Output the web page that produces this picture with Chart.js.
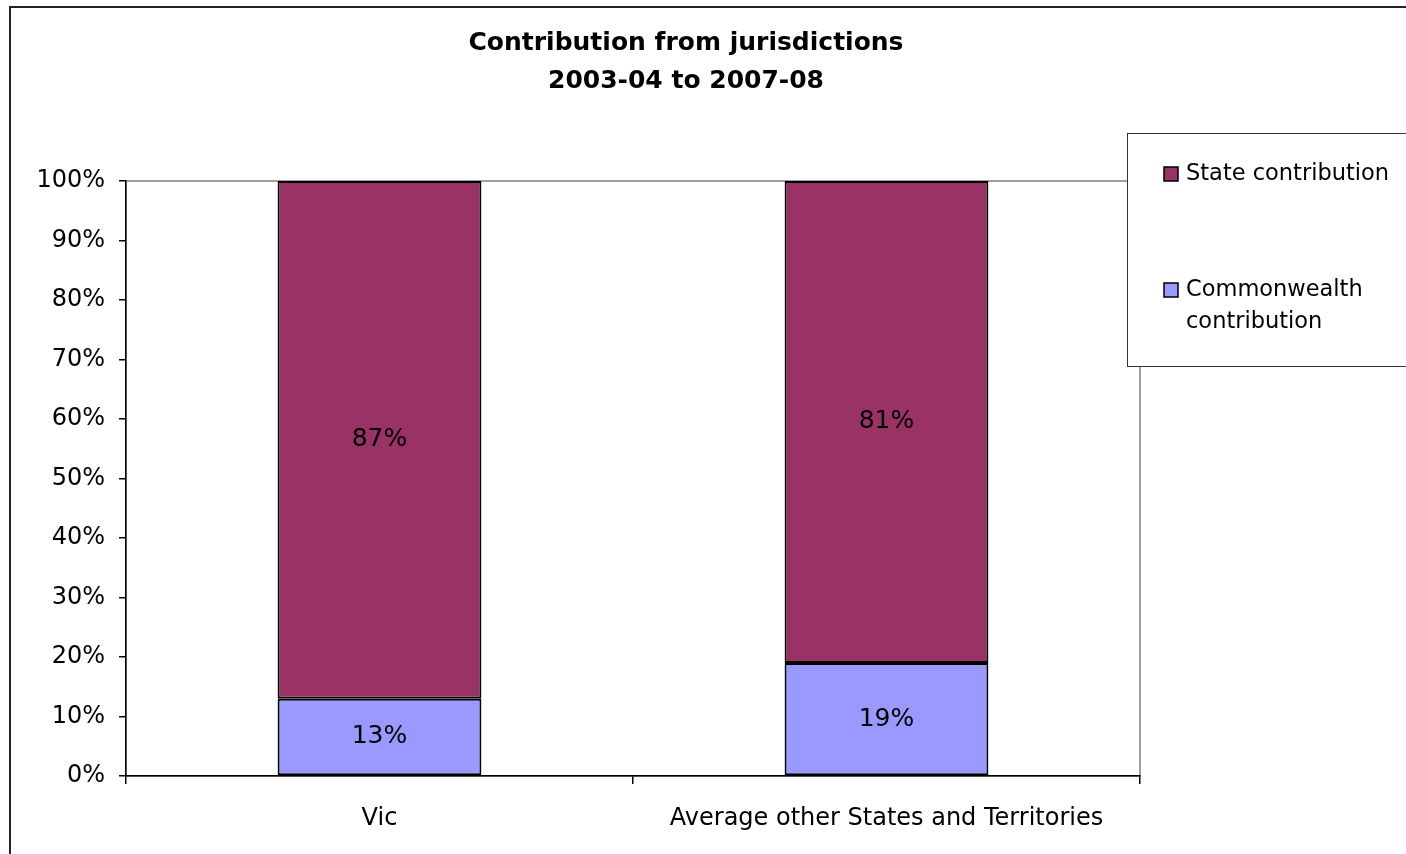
<!DOCTYPE html>
<html>
<head>
<meta charset="utf-8">
<script src="https://cdn.jsdelivr.net/npm/chart.js@4/dist/chart.umd.min.js"></script>
<style>
html,body{margin:0;padding:0;background:#fff;}
canvas{display:block;}
</style>
</head>
<body>
<canvas id="c" width="1406" height="854"></canvas>
<script>
const categories = ["Vic", "Average other States and Territories"];
const commonwealthValues = [13, 19];
const stateValues = [87, 81];
const seriesNames = ["State contribution", "Commonwealth contribution"];
const legendLines = [["State contribution"], ["Commonwealth", "contribution"]];
const titleLines = ["Contribution from jurisdictions", "2003-04 to 2007-08"];
const colors = { state: "#993366", commonwealth: "#9999FF" };
const FONT = "'DejaVu Sans', sans-serif";

const framePlugin = {
  id: 'frame',
  beforeDraw(chart) {
    const ctx = chart.ctx;
    ctx.save();
    ctx.fillStyle = '#fff';
    ctx.fillRect(0, 0, chart.width, chart.height);
    ctx.strokeStyle = '#222';
    ctx.lineWidth = 2;
    ctx.strokeRect(10, 7, chart.width + 20, chart.height + 20);
    const a = chart.chartArea;
    ctx.strokeStyle = '#808080';
    ctx.lineWidth = 1.5;
    ctx.strokeRect(a.left, a.top, a.right - a.left, a.bottom - a.top);
    ctx.restore();
  },
  afterDraw(chart) {
    const ctx = chart.ctx;
    ctx.save();
    ctx.fillStyle = '#000';
    ctx.font = "bold 25px " + FONT;
    ctx.textAlign = 'center';
    ctx.textBaseline = 'middle';
    ctx.fillText(titleLines[0], 686, 43);
    ctx.fillText(titleLines[1], 686, 81);
    ctx.strokeStyle = '#333';
    ctx.lineWidth = 1;
    ctx.fillStyle = '#fff';
    ctx.fillRect(1127.5, 133.5, 300, 233);
    ctx.strokeRect(1127.5, 133.5, 300, 233);
    const items = [
      { color: colors.state, y: 174, lines: legendLines[0] },
      { color: colors.commonwealth, y: 290, lines: legendLines[1] }
    ];
    ctx.font = "22.5px " + FONT;
    ctx.textAlign = 'left';
    items.forEach(it => {
      ctx.fillStyle = it.color;
      ctx.fillRect(1164, it.y - 7, 14, 14);
      ctx.strokeStyle = '#000';
      ctx.lineWidth = 1.5;
      ctx.strokeRect(1164, it.y - 7, 14, 14);
      ctx.fillStyle = '#000';
      it.lines.forEach((ln, i) => ctx.fillText(ln, 1186, it.y + i * 32));
    });
    ctx.font = "25px " + FONT;
    ctx.textAlign = 'center';
    ctx.textBaseline = 'middle';
    chart.data.datasets.forEach((ds, di) => {
      const meta = chart.getDatasetMeta(di);
      meta.data.forEach((el, i) => {
        const p = el.getCenterPoint();
        ctx.fillText(ds.data[i] + '%', p.x, p.y);
      });
    });
    ctx.restore();
  }
};

new Chart(document.getElementById('c'), {
  type: 'bar',
  data: {
    labels: categories,
    datasets: [
      {
        label: seriesNames[1],
        data: commonwealthValues,
        backgroundColor: colors.commonwealth,
        borderColor: '#000',
        borderWidth: 2,
        borderSkipped: false,
        barPercentage: 0.402,
        categoryPercentage: 1.0
      },
      {
        label: seriesNames[0],
        data: stateValues,
        backgroundColor: colors.state,
        borderColor: '#000',
        borderWidth: 2,
        borderSkipped: false,
        barPercentage: 0.402,
        categoryPercentage: 1.0
      }
    ]
  },
  options: {
    responsive: false,
    animation: false,
    devicePixelRatio: 1,
    layout: { padding: { left: 0, top: 181, right: 266, bottom: 0 } },
    plugins: {
      legend: { display: false },
      title: { display: false },
      tooltip: { enabled: false }
    },
    scales: {
      x: {
        stacked: true,
        afterFit(scale) { scale.height = 78; },
        border: { display: true, color: '#000', width: 1.5 },
        grid: {
          display: true, offset: true, drawOnChartArea: false,
          drawTicks: true, tickLength: 8, color: '#000', lineWidth: 1.5
        },
        ticks: { color: '#000', font: { family: FONT, size: 24 }, padding: 20, maxRotation: 0, autoSkip: false }
      },
      y: {
        stacked: true,
        min: 0, max: 100,
        afterFit(scale) { scale.width = 126; },
        border: { display: true, color: '#000', width: 1.5 },
        grid: {
          display: true, drawOnChartArea: false,
          drawTicks: true, tickLength: 7, color: '#000', lineWidth: 1.5
        },
        ticks: {
          stepSize: 10, color: '#000', padding: 14,
          font: { family: FONT, size: 24 },
          callback: v => v + '%'
        }
      }
    }
  },
  plugins: [framePlugin]
});
</script>
</body>
</html>
